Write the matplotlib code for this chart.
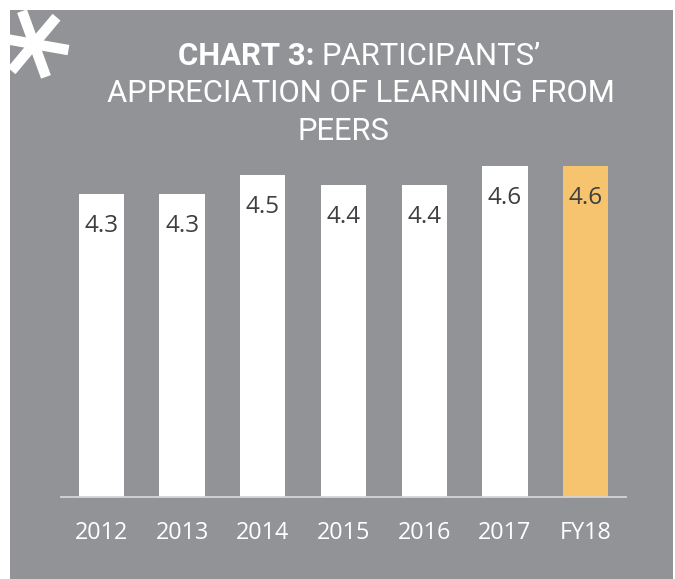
import numpy as np
import matplotlib
matplotlib.use("Agg")
import matplotlib.pyplot as plt
from matplotlib.patches import Rectangle

# chart data
years = ['2012', '2013', '2014', '2015', '2016', '2017', 'FY18']
scores = [4.3, 4.3, 4.5, 4.4, 4.4, 4.6, 4.6]
value_labels = ['4.3', '4.3', '4.5', '4.4', '4.4', '4.6', '4.6']
title_bold = 'CHART 3:'
title_rest = ['PARTICIPANTS\u2019', 'APPRECIATION OF LEARNING FROM', 'PEERS']

W, H = 675, 579
panel_grey = '#929396'
text_dark = '#3f3f41'
orange = '#f6c46f'

fig = plt.figure(figsize=(W / 100, H / 100), dpi=100, facecolor='white')

# background layer in pixel coords (y down)
bg = fig.add_axes([0, 0, 1, 1])
bg.set_xlim(0, W)
bg.set_ylim(H, 0)
bg.axis('off')
panel = Rectangle((10, 10), 663, 580, facecolor=panel_grey, edgecolor='none')
bg.add_patch(panel)

# asterisk: three thick strokes, clipped to the grey panel
cx, cy, arm = 34, 44, 35
for ang in [10, 70, 130]:
    a = np.deg2rad(ang)
    dx, dy = arm * np.cos(a), arm * np.sin(a)
    ln, = bg.plot([cx - dx, cx + dx], [cy - dy, cy + dy], color='white',
                  lw=7.5, solid_capstyle='butt')
    ln.set_clip_path(panel)

# title
tfont = dict(family='Roboto', size=22.3, color='white')
bg.text(314, 65, title_bold, ha='right', va='baseline', weight='bold', **tfont)
bg.text(322, 65, title_rest[0], ha='left', va='baseline', **tfont)
bg.text(361, 102, title_rest[1], ha='center', va='baseline', **tfont)
bg.text(343, 140, title_rest[2], ha='center', va='baseline', **tfont)

# bar chart axes: baseline at y=496.7px, x from 61 to 626px
left, right = 61 / W, 626 / W
bottom, top = 1 - 496.7 / H, 1 - 150 / H
ax = fig.add_axes([left, bottom, right - left, top - bottom])
ax.patch.set_alpha(0)

x = np.arange(len(years))
colors = ['white'] * (len(years) - 1) + [orange]
ax.bar(x, scores, width=0.56, color=colors, edgecolor='none', zorder=2)

ax.set_xlim(-0.5, 6.5)
ax.set_ylim(1.056, 1.056 + 346.7 / 93.3)

for xi, v, lab in zip(x, scores, value_labels):
    ax.annotate(lab, (xi, v), xytext=(0, -38 * 0.72), textcoords='offset points',
                ha='center', va='baseline', family='Open Sans', fontsize=17.5,
                color=text_dark, zorder=3)

for xi, lab in zip(x, years):
    ax.annotate(lab, (xi, 1.056), xytext=(0, -42 * 0.72), textcoords='offset points',
                ha='center', va='baseline', family='Open Sans', fontsize=16.8,
                color='white', annotation_clip=False)

for s in ['top', 'right', 'left']:
    ax.spines[s].set_visible(False)
ax.spines['bottom'].set_color('#d4d5d6')
ax.spines['bottom'].set_linewidth(1.3)
ax.set_xticks([])
ax.set_yticks([])

fig.savefig('out.png', dpi=100, facecolor='white')
